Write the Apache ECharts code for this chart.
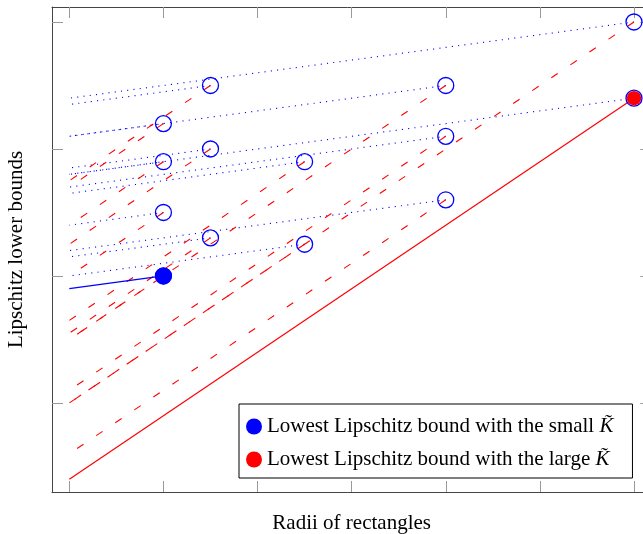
<!DOCTYPE html>
<html>
<head>
<meta charset="utf-8">
<script src="https://cdn.jsdelivr.net/npm/echarts@6/dist/echarts.min.js"></script>
<style>
  html, body { margin: 0; padding: 0; background: #fff; }
  #chart { width: 643px; height: 534px; }
</style>
</head>
<body>
<div id="chart"></div>
<script>
// Sampled rectangles: radius and the function bound attached to each one
const radii  = [1.5, 4, 1, 1.5, 1, 2.5, 4, 1, 1.5, 2.5, 4, 6, 6, 1];
const bounds = [3.5, 3.5, 3.2, 3.0, 2.9, 2.9, 3.1, 2.5, 2.3, 2.25, 2.6, 4.0, 3.4, 2.0];

// Where each rectangle's bound cone reaches radius 0 (small and large K~)
const smallBoundAtZero = [3.35, 3.1, 3.1, 2.85, 2.8, 2.65, 2.7, 2.4, 2.15, 2.0, 2.2, 3.4, 2.8, 1.9];
const largeBoundAtZero = [2.75, 1.5, 2.7, 2.25, 2.4, 1.65, 1.1, 2.0, 1.55, 1.0, 0.6, 1.0, 0.4, 1.5];

// Rectangles giving the lowest bound for each constant
const bestSmall = 13;
const bestLarge = 12;

// Tick positions (no tick labels are printed)
const xTicks = [0, 1, 2, 3, 4, 5, 6];
const yTicks = [1, 2, 3, 4];

const nameSmall = 'Lowest Lipschitz bound with the small K\u0303';
const nameLarge = 'Lowest Lipschitz bound with the large K\u0303';

const BLUE = '#0000ff';
const RED = '#ff0000';
const SERIF = '"Liberation Serif", "Times New Roman", serif';

const series = [];

// Small-constant cones: dotted blue
radii.forEach((r, i) => {
  if (i === bestSmall) return;
  series.push({
    type: 'line', silent: true, symbol: 'none', z: 2,
    data: [[r, bounds[i]], [0, smallBoundAtZero[i]]],
    lineStyle: { color: BLUE, width: 1.1, type: [1.1, 5.2] }
  });
});

// Large-constant cones: dashed red
radii.forEach((r, i) => {
  if (i === bestLarge) return;
  series.push({
    type: 'line', silent: true, symbol: 'none', z: 3,
    data: [[r, bounds[i]], [0, largeBoundAtZero[i]]],
    lineStyle: { color: RED, width: 1.1, type: [7.7, 15.3] }
  });
});

// Lowest bounds: solid lines
series.push({
  type: 'line', silent: true, symbol: 'none', z: 4,
  data: [[radii[bestSmall], bounds[bestSmall]], [0, smallBoundAtZero[bestSmall]]],
  lineStyle: { color: BLUE, width: 1.3, type: 'solid' }
});
series.push({
  type: 'line', silent: true, symbol: 'none', z: 4,
  data: [[radii[bestLarge], bounds[bestLarge]], [0, largeBoundAtZero[bestLarge]]],
  lineStyle: { color: RED, width: 1.2, type: 'solid' }
});

// Rectangle markers: hollow blue circles
series.push({
  type: 'scatter', silent: true, z: 5,
  symbol: 'circle', symbolSize: 16,
  data: radii.map((r, i) => [r, bounds[i]]),
  itemStyle: { color: 'rgba(0,0,0,0)', borderColor: BLUE, borderWidth: 1.3, opacity: 1 }
});

// Highlighted lowest-bound rectangles
series.push({
  name: nameSmall, type: 'scatter', silent: true, z: 6,
  symbol: 'circle', symbolSize: 17,
  data: [[radii[bestSmall], bounds[bestSmall]]],
  itemStyle: { color: BLUE, opacity: 1 }
});
series.push({
  name: nameLarge, type: 'scatter', silent: true, z: 6,
  symbol: 'circle', symbolSize: 14.5,
  data: [[radii[bestLarge], bounds[bestLarge]]],
  itemStyle: { color: RED, opacity: 1 }
});

const xRange = { min: -0.184, max: 6.184 };
const yRange = { min: 0.299, max: 4.118 };

function frameAxis(extra) {
  return Object.assign({
    type: 'value',
    splitLine: { show: false },
    axisLabel: { show: false },
    axisLine: { show: true, onZero: false, lineStyle: { color: '#444', width: 1 } },
    axisTick: { show: true, inside: true, length: 11, lineStyle: { color: '#999', width: 1 } }
  }, extra);
}

const option = {
  animation: false,
  backgroundColor: '#fff',
  grid: { left: 52, top: 7, width: 599.3, height: 485, containLabel: false, outerBoundsMode: 'none' },
  xAxis: [
    frameAxis(Object.assign({
      position: 'bottom',
      name: 'Radii of rectangles', nameLocation: 'middle', nameGap: 21,
      nameTextStyle: { fontFamily: SERIF, fontSize: 21, color: '#000' }
    }, xRange)),
    frameAxis(Object.assign({ position: 'top' }, xRange))
  ],
  yAxis: [
    frameAxis(Object.assign({
      position: 'left',
      name: 'Lipschitz lower bounds', nameLocation: 'middle', nameGap: 25,
      nameTextStyle: { fontFamily: SERIF, fontSize: 21, color: '#000' }
    }, yRange)),
    frameAxis(Object.assign({ position: 'right' }, yRange))
  ],
  legend: {
    data: [nameSmall, nameLarge],
    orient: 'vertical',
    left: 239, top: 404,
    padding: [12, 19, 8, 7],
    itemWidth: 16, itemHeight: 16, itemGap: 12,
    icon: 'circle',
    borderColor: '#000', borderWidth: 1, backgroundColor: '#fff',
    selectedMode: false,
    formatter: (name) => name.replace('K\u0303', '{k|K\u0303}'),
    textStyle: {
      fontFamily: SERIF, fontSize: 21, color: '#000', lineHeight: 16,
      rich: { k: { fontFamily: SERIF, fontSize: 21, fontStyle: 'italic', color: '#000', lineHeight: 16 } }
    }
  },
  series: series
};

// Ticks on every side at the integer positions
option.xAxis.forEach(a => { a.axisTick.customValues = xTicks; });
option.yAxis.forEach(a => { a.axisTick.customValues = yTicks; });

const chart = echarts.init(document.getElementById('chart'), null, { renderer: 'canvas' });
chart.setOption(option);
</script>
</body>
</html>
